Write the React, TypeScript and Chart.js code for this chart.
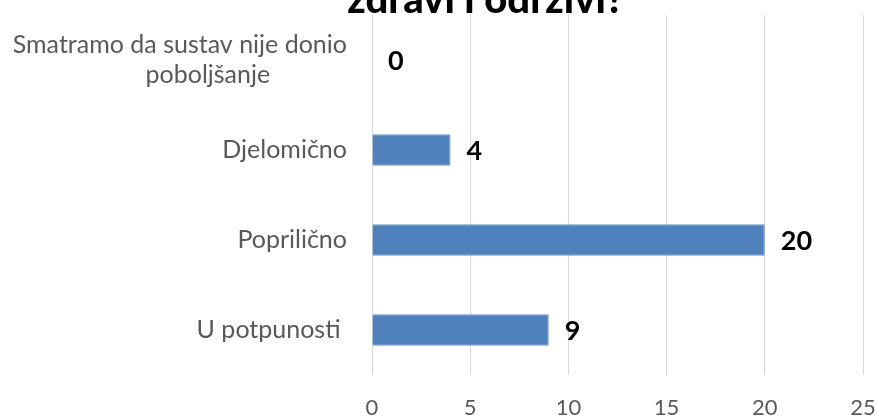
import React, { useEffect, useRef } from "react";
import { Chart, registerables } from "chart.js";

Chart.register(...registerables);

const titleText = "zdravi i održivi?";
const categories: (string | string[])[] = [
  ["Smatramo da sustav nije donio", "poboljšanje            "],
  "Djelomično",
  "Poprilično",
  "U potpunosti ",
];
const values = [0, 4, 20, 9];
const xTicks = [0, 5, 10, 15, 20, 25];

const FONT = "Lato, 'Open Sans', sans-serif";

const valueLabelPlugin = {
  id: "valueLabels",
  afterDatasetsDraw(chart: any) {
    const ctx = chart.ctx;
    const meta = chart.getDatasetMeta(0);
    ctx.save();
    ctx.font = `bold 27px ${FONT}`;
    ctx.fillStyle = "#000000";
    ctx.textAlign = "left";
    ctx.textBaseline = "middle";
    meta.data.forEach((bar: any, i: number) => {
      ctx.fillText(String(values[i]), bar.x + 16, bar.y + 1);
    });
    ctx.restore();
  },
};

const clippedTitlePlugin = {
  id: "clippedTitle",
  afterDraw(chart: any) {
    const ctx = chart.ctx;
    ctx.save();
    ctx.font = `900 40px ${FONT}`;
    ctx.fillStyle = "#000000";
    ctx.textAlign = "center";
    ctx.textBaseline = "alphabetic";
    ctx.fillText(titleText, chart.width * 0.554, 13);
    ctx.restore();
  },
};

const zeroPadding = (scale: any) => {
  scale.paddingTop = 0;
  scale.paddingBottom = 0;
  scale.paddingLeft = 0;
  scale.paddingRight = 0;
};

export default function App() {
  const ref = useRef<HTMLCanvasElement>(null);
  useEffect(() => {
    if (!ref.current) return;
    const chart = new Chart(ref.current, {
      type: "bar",
      data: {
        labels: categories,
        datasets: [
          {
            data: values,
            backgroundColor: "#4f81bd",
            borderColor: "#6b93c6",
            borderWidth: 1,
            categoryPercentage: 1,
            barPercentage: 0.35,
          },
        ],
      },
      options: {
        indexAxis: "y",
        animation: false,
        responsive: false,
        devicePixelRatio: 1,
        layout: { autoPadding: false, padding: { top: 15, right: 14, left: 0, bottom: 0 } },
        plugins: {
          legend: { display: false },
          title: { display: false },
          tooltip: { enabled: false },
        },
        scales: {
          x: {
            min: 0,
            max: 25,
            afterBuildTicks: (scale: any) => {
              scale.ticks = xTicks.map((v) => ({ value: v }));
            },
            afterFit: (scale: any) => {
              scale.height = 41;
              zeroPadding(scale);
            },
            grid: { color: "#d9d9d9", lineWidth: 1, drawTicks: false },
            border: { display: false },
            ticks: {
              color: "#595959",
              font: { family: FONT, size: 22 },
              padding: 20,
            },
          },
          y: {
            afterFit: (scale: any) => {
              scale.width = 372;
              zeroPadding(scale);
            },
            grid: { display: false, drawTicks: false },
            border: { display: false },
            ticks: {
              color: "#595959",
              font: { family: FONT, size: 25, lineHeight: 1.2 },
              padding: 25,
              autoSkip: false,
            },
          },
        },
      },
      plugins: [valueLabelPlugin, clippedTitlePlugin],
    });
    return () => chart.destroy();
  }, []);
  return (
    <div
      style={{
        position: "fixed",
        left: 0,
        top: 0,
        width: 877,
        height: 416,
        overflow: "hidden",
        background: "#ffffff",
      }}
    >
      <canvas ref={ref} width={877} height={416} style={{ display: "block" }} />
    </div>
  );
}
